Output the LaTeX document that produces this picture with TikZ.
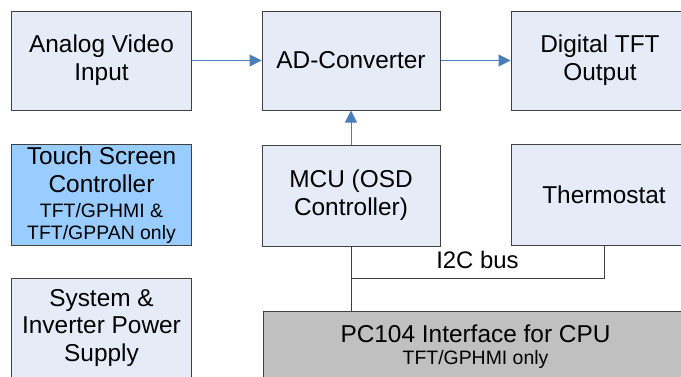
\documentclass[tikz,border=0pt]{standalone}
\usepackage{fontspec}
\setmainfont{Liberation Sans}
\usetikzlibrary{arrows.meta,positioning,calc}
\definecolor{BoxFill}{HTML}{E6ECF7}
\definecolor{TouchFill}{HTML}{99CCFF}
\definecolor{CpuFill}{HTML}{C0C0C0}
\definecolor{Edge}{HTML}{404040}
\definecolor{Flow}{HTML}{4A7EBB}
\newcommand{\smallsz}{\fontsize{19.5}{22}\selectfont}

\begin{document}
\begin{tikzpicture}[x=1bp,y=-1bp,>={Triangle[length=12bp,width=12bp]},
    blk/.style={draw=Edge,line width=1bp,fill=BoxFill,align=center,inner sep=0pt,
      minimum width=179bp,minimum height=99bp,font=\fontsize{24.5}{28}\selectfont},
    flow/.style={->,Flow,line width=1bp},
    bus/.style={Edge,line width=1bp}]
    \useasboundingbox (0,0) rectangle (681,376);
    \node[blk] (avi) at (101.5,60.5) {Analog Video\\Input};
    \node[blk,minimum width=178bp] (adc) at (351,60.5) {AD-Converter};
    \node[blk,minimum width=178bp] (dtft) at (600,60.5) {Digital TFT\\Output};
    \node[blk,fill=TouchFill,minimum height=101bp] (tsc) at (101.5,195) {Touch Screen\\Controller\\[-3pt]\smallsz TFT/GPHMI \&\\[-6pt]\smallsz TFT/GPPAN only};
    \node[blk,minimum width=178bp,minimum height=101bp] (mcu) at (351,195.5) {MCU (OSD\\Controller)};
    \node[blk,minimum width=186bp,minimum height=101bp] (thermo) at (604,194.5) {Thermostat};
    \node[blk] (psu) at (101.5,328) {System \&\\Inverter Power\\Supply};
    \node[blk,fill=CpuFill,minimum width=425bp,minimum height=70bp] (pc) at (475.5,346.5) {PC104 Interface for CPU\\[-6pt]\smallsz TFT/GPHMI only};
    \draw[flow] (avi) -- (adc);\draw[flow] (adc) -- (dtft);
    \draw[flow] (mcu) -- (adc);
    \coordinate (tap) at ($(mcu.south)!0.5!(mcu.south |- pc.north)$);
    \draw[bus] (mcu.south) -- (mcu.south |- pc.north);
    \draw[bus] (tap) -| node[pos=0.25,above=6.5bp,text=black,font=\fontsize{24}{28}\selectfont] (i2c) {I2C bus} (thermo.south);
  \end{tikzpicture}
\end{document}
